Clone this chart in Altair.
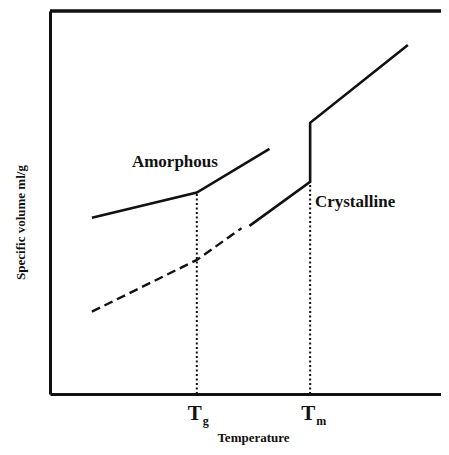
import altair as alt
import pandas as pd

# Amorphous (glass) line
amor_x = [10.5, 36.8, 55.0]
amor_y = [46.0, 52.6, 64.0]
# Supercooled / extrapolated crystalline (dashed)
dash_x = [10.5, 36.8, 48.0]
dash_y = [21.5, 35.0, 43.3]
# Crystalline + melt
cryst_x = [50.0, 65.2, 65.2, 89.7]
cryst_y = [43.9, 55.4, 70.8, 91.1]
# Transition temperatures
trans_x = [36.8, 65.2]
trans_top = [52.6, 55.4]
trans_sub = ["g", "m"]

W, H = 391, 383
FONT = "Liberation Serif"
INK = "#111111"

amor = pd.DataFrame({"x": amor_x, "y": amor_y, "o": range(len(amor_x))})
dash = pd.DataFrame({"x": dash_x, "y": dash_y, "o": range(len(dash_x))})
cryst = pd.DataFrame({"x": cryst_x, "y": cryst_y, "o": range(len(cryst_x))})
trans = pd.DataFrame({"x": trans_x, "y0": [0, 0], "y1": trans_top, "sub": trans_sub})
labels = pd.DataFrame({"x": [31.3, 66.4], "y": [60.6, 50.1], "t": ["Amorphous", "Crystalline"]})

xs = alt.Scale(domain=[0, 98], nice=False, zero=False)
ys = alt.Scale(domain=[0, 100], nice=False, zero=False)

xax = alt.Axis(labels=False, ticks=False, grid=False, domainColor=INK, domainWidth=3,
               title="Temperature", titleFont=FONT, titleFontSize=13, titleFontWeight="bold",
               titleColor=INK, titleX=203, titleY=43, titleBaseline="middle")
yax = alt.Axis(labels=False, ticks=False, grid=False, domainColor=INK, domainWidth=3,
               title="Specific volume ml/g", titleFont=FONT, titleFontSize=13, titleFontWeight="bold",
               titleColor=INK, titleX=-30, titleY=211, titleAngle=-90, titleBaseline="middle")

base_line = alt.Chart(amor).mark_line(color=INK, strokeWidth=2.6).encode(
    x=alt.X("x:Q", scale=xs, axis=xax),
    y=alt.Y("y:Q", scale=ys, axis=yax),
    order="o:Q",
)
dashed = alt.Chart(dash).mark_line(color=INK, strokeWidth=2.4, strokeDash=[9, 5]).encode(
    x=alt.X("x:Q", scale=xs), y=alt.Y("y:Q", scale=ys), order="o:Q")
cryst_line = alt.Chart(cryst).mark_line(color=INK, strokeWidth=2.6).encode(
    x=alt.X("x:Q", scale=xs), y=alt.Y("y:Q", scale=ys), order="o:Q")
dotted = alt.Chart(trans).mark_rule(color=INK, strokeWidth=2, strokeDash=[2, 2.5]).encode(
    x=alt.X("x:Q", scale=xs), y=alt.Y("y0:Q", scale=ys), y2="y1:Q")

txt_c = alt.Chart(labels.iloc[[0]]).mark_text(font=FONT, fontSize=17, fontWeight="bold", color=INK,
                                             align="center", baseline="middle").encode(
    x=alt.X("x:Q", scale=xs), y=alt.Y("y:Q", scale=ys), text="t:N")
txt_l = alt.Chart(labels.iloc[[1]]).mark_text(font=FONT, fontSize=17, fontWeight="bold", color=INK,
                                             align="left", baseline="middle").encode(
    x=alt.X("x:Q", scale=xs), y=alt.Y("y:Q", scale=ys), text="t:N")

tT = alt.Chart(trans).mark_text(font=FONT, fontSize=21, fontWeight="bold", color=INK,
                                align="center", baseline="middle", dx=-2, dy=20).encode(
    x=alt.X("x:Q", scale=xs), y=alt.value(H), text=alt.value("T"))
tS = alt.Chart(trans).mark_text(font=FONT, fontSize=12, fontWeight="bold", color=INK,
                                align="left", baseline="middle", dx=6, dy=27).encode(
    x=alt.X("x:Q", scale=xs), y=alt.value(H), text="sub:N")

top = alt.Chart(trans).mark_rule(color=INK, strokeWidth=3).encode(
    x=alt.value(0), x2=alt.value(W), y=alt.value(0))

chart = alt.layer(base_line, dashed, cryst_line, dotted, txt_c, txt_l, tT, tS, top).properties(
    width=W, height=H, autosize="none",
    padding={"left": 42, "top": 3, "right": 0, "bottom": 52},
).configure_view(stroke=None).configure(background="white")

chart.save("out.html", embed_options={"renderer": "svg", "actions": False})
